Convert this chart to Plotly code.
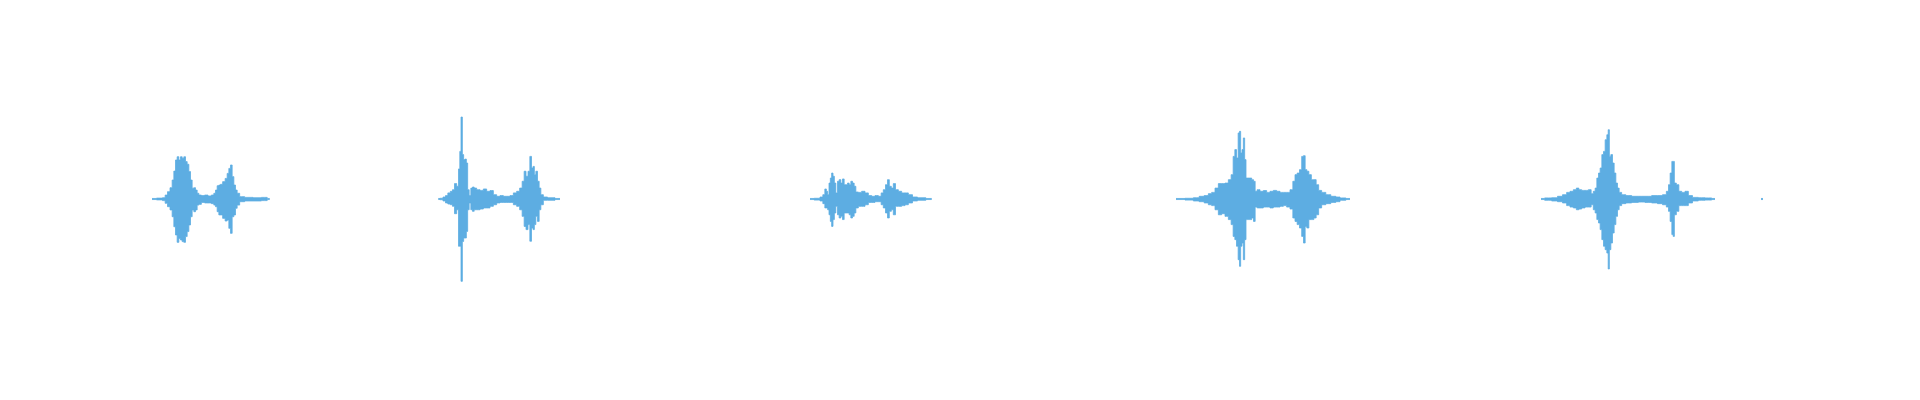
"""
Waveform of five short recorded clips (plus a tiny click at the end), drawn as
an amplitude envelope around a zero line.
"""
import plotly.graph_objects as go

# time in seconds, upper / lower peak amplitude (normalised, full scale = 1)
t_clip1 = [1.52, 1.61, 1.64, 1.663, 1.687, 1.713, 1.73, 1.747, 1.763, 1.78, 1.797, 1.813, 1.83, 1.847, 1.863, 1.88,
           1.897, 1.913, 1.93, 1.947, 1.963, 1.98, 1.997, 2.03, 2.063, 2.097, 2.13, 2.147, 2.163, 2.18, 2.197, 2.213,
           2.24, 2.263, 2.28, 2.297, 2.313, 2.33, 2.347, 2.363, 2.38, 2.413, 2.48, 2.58, 2.647, 2.697]
up_clip1 = [0.003, 0.005, 0.007, 0.022, 0.041, 0.063, 0.106, 0.156, 0.218, 0.236, 0.218, 0.236, 0.227, 0.236, 0.209,
            0.194, 0.153, 0.106, 0.06, 0.063, 0.05, 0.032, 0.022, 0.019, 0.022, 0.017, 0.022, 0.032, 0.05, 0.074, 0.078,
            0.082, 0.097, 0.115, 0.143, 0.171, 0.19, 0.125, 0.078, 0.05, 0.032, 0.013, 0.009, 0.007, 0.009, 0.003]
lo_clip1 = [0.003, 0.005, 0.009, 0.024, 0.043, 0.061, 0.099, 0.155, 0.201, 0.242, 0.22, 0.229, 0.238, 0.242, 0.21,
            0.182, 0.145, 0.099, 0.061, 0.071, 0.061, 0.034, 0.03, 0.019, 0.022, 0.022, 0.026, 0.034, 0.043, 0.071,
            0.089, 0.089, 0.108, 0.123, 0.117, 0.164, 0.192, 0.099, 0.089, 0.052, 0.034, 0.015, 0.011, 0.011, 0.009,
            0.003]

t_clip2 = [4.383, 4.417, 4.443, 4.467, 4.49, 4.517, 4.533, 4.557, 4.577, 4.593, 4.603, 4.617, 4.63, 4.643, 4.657, 4.67,
           4.683, 4.70, 4.717, 4.733, 4.75, 4.783, 4.817, 4.85, 4.883, 4.917, 4.95, 4.983, 5.017, 5.05, 5.083, 5.117,
           5.15, 5.183, 5.21, 5.233, 5.25, 5.27, 5.29, 5.307, 5.323, 5.337, 5.35, 5.367, 5.383, 5.40, 5.417, 5.45, 5.50,
           5.60]
up_clip2 = [0.003, 0.004, 0.011, 0.019, 0.034, 0.043, 0.052, 0.086, 0.071, 0.168, 0.266, 0.458, 0.248, 0.22, 0.223,
            0.201, 0.052, 0.019, 0.061, 0.067, 0.061, 0.052, 0.048, 0.056, 0.043, 0.047, 0.024, 0.015, 0.019, 0.015,
            0.015, 0.019, 0.034, 0.043, 0.061, 0.099, 0.155, 0.127, 0.155, 0.238, 0.173, 0.182, 0.136, 0.155, 0.099,
            0.061, 0.024, 0.011, 0.007, 0.003]
lo_clip2 = [0.003, 0.004, 0.011, 0.022, 0.028, 0.032, 0.041, 0.082, 0.06, 0.264, 0.264, 0.46, 0.237, 0.218, 0.218,
            0.181, 0.06, 0.022, 0.06, 0.069, 0.06, 0.06, 0.056, 0.05, 0.05, 0.041, 0.032, 0.022, 0.019, 0.019, 0.019,
            0.019, 0.032, 0.041, 0.06, 0.097, 0.153, 0.171, 0.143, 0.236, 0.162, 0.171, 0.143, 0.097, 0.125, 0.06,
            0.032, 0.007, 0.007, 0.003]

t_clip3 = [8.10, 8.183, 8.217, 8.24, 8.257, 8.27, 8.283, 8.297, 8.31, 8.323, 8.337, 8.35, 8.367, 8.383, 8.40, 8.417,
           8.433, 8.45, 8.467, 8.483, 8.50, 8.517, 8.533, 8.55, 8.567, 8.60, 8.633, 8.667, 8.70, 8.733, 8.767, 8.80,
           8.823, 8.843, 8.867, 8.883, 8.903, 8.923, 8.943, 8.967, 9.00, 9.033, 9.067, 9.10, 9.15, 9.20, 9.317]
up_clip3 = [0.003, 0.004, 0.011, 0.024, 0.056, 0.043, 0.024, 0.089, 0.117, 0.145, 0.127, 0.089, 0.034, 0.099, 0.108,
            0.089, 0.112, 0.08, 0.08, 0.089, 0.08, 0.099, 0.089, 0.071, 0.039, 0.037, 0.043, 0.034, 0.019, 0.015, 0.019,
            0.015, 0.034, 0.052, 0.08, 0.108, 0.071, 0.061, 0.086, 0.052, 0.043, 0.034, 0.034, 0.024, 0.011, 0.007,
            0.003]
lo_clip3 = [0.003, 0.006, 0.011, 0.026, 0.05, 0.05, 0.06, 0.088, 0.125, 0.153, 0.115, 0.078, 0.041, 0.088, 0.106,
            0.097, 0.115, 0.078, 0.078, 0.078, 0.088, 0.106, 0.097, 0.078, 0.05, 0.041, 0.041, 0.032, 0.019, 0.019,
            0.015, 0.015, 0.032, 0.05, 0.078, 0.106, 0.069, 0.06, 0.088, 0.041, 0.041, 0.037, 0.032, 0.022, 0.011,
            0.007, 0.003]

t_clip4 = [11.76, 11.80, 11.90, 11.967, 12.017, 12.067, 12.10, 12.133, 12.167, 12.20, 12.233, 12.267, 12.30, 12.323,
           12.34, 12.357, 12.373, 12.39, 12.40, 12.413, 12.427, 12.44, 12.453, 12.467, 12.483, 12.507, 12.527, 12.543,
           12.56, 12.583, 12.617, 12.65, 12.683, 12.717, 12.75, 12.783, 12.817, 12.85, 12.883, 12.917, 12.94, 12.96,
           12.983, 13.007, 13.027, 13.043, 13.06, 13.077, 13.10, 13.127, 13.15, 13.173, 13.20, 13.233, 13.283,
           13.333, 13.383, 13.417, 13.50]
up_clip4 = [0.003, 0.003, 0.004, 0.007, 0.015, 0.019, 0.03, 0.037, 0.061, 0.086, 0.086, 0.089, 0.108, 0.136, 0.238,
            0.276, 0.229, 0.369, 0.378, 0.257, 0.276, 0.341, 0.22, 0.117, 0.117, 0.117, 0.108, 0.099, 0.043, 0.052,
            0.043, 0.047, 0.037, 0.043, 0.048, 0.043, 0.037, 0.037, 0.037, 0.052, 0.099, 0.136, 0.145, 0.164, 0.238,
            0.242, 0.164, 0.155, 0.136, 0.108, 0.108, 0.08, 0.048, 0.037, 0.024, 0.015, 0.011, 0.006, 0.003]
lo_clip4 = [0.003, 0.003, 0.006, 0.011, 0.015, 0.022, 0.032, 0.037, 0.06, 0.088, 0.082, 0.097, 0.115, 0.143, 0.209,
            0.227, 0.264, 0.339, 0.376, 0.264, 0.246, 0.339, 0.227, 0.115, 0.115, 0.115, 0.106, 0.125, 0.045, 0.05,
            0.05, 0.045, 0.045, 0.05, 0.045, 0.045, 0.041, 0.037, 0.045, 0.056, 0.106, 0.125, 0.143, 0.162, 0.209,
            0.246, 0.153, 0.162, 0.115, 0.115, 0.106, 0.088, 0.05, 0.032, 0.026, 0.019, 0.015, 0.007, 0.003]

t_clip5 = [15.41, 15.483, 15.55, 15.60, 15.65, 15.683, 15.717, 15.75, 15.777, 15.80, 15.833, 15.867, 15.90, 15.923,
           15.943, 15.96, 15.977, 15.993, 16.01, 16.027, 16.043, 16.06, 16.077, 16.087, 16.10, 16.117, 16.133, 16.15,
           16.167, 16.183, 16.20, 16.233, 16.283, 16.35, 16.417, 16.483, 16.55, 16.60, 16.65, 16.677, 16.693, 16.71,
           16.727, 16.737, 16.75, 16.777, 16.80, 16.833, 16.867, 16.90, 16.95, 17.017, 17.083, 17.15]
up_clip5 = [0.003, 0.006, 0.007, 0.015, 0.024, 0.037, 0.043, 0.052, 0.061, 0.052, 0.048, 0.048, 0.052, 0.03, 0.043,
            0.061, 0.117, 0.145, 0.173, 0.248, 0.266, 0.331, 0.359, 0.387, 0.238, 0.248, 0.201, 0.145, 0.089, 0.061,
            0.037, 0.024, 0.019, 0.015, 0.015, 0.015, 0.019, 0.019, 0.024, 0.043, 0.08, 0.145, 0.21, 0.21, 0.089, 0.08,
            0.043, 0.037, 0.043, 0.019, 0.009, 0.007, 0.006, 0.003]
lo_clip5 = [0.003, 0.007, 0.011, 0.015, 0.022, 0.037, 0.045, 0.05, 0.06, 0.056, 0.05, 0.045, 0.045, 0.032, 0.06, 0.078,
            0.115, 0.134, 0.171, 0.227, 0.264, 0.283, 0.302, 0.391, 0.283, 0.246, 0.19, 0.143, 0.097, 0.06, 0.037,
            0.026, 0.022, 0.019, 0.017, 0.019, 0.022, 0.026, 0.032, 0.045, 0.069, 0.125, 0.199, 0.209, 0.088, 0.069,
            0.037, 0.037, 0.037, 0.022, 0.011, 0.007, 0.006, 0.003]

# tiny click near the end
t_clip6 = [17.61, 17.63]
up_clip6 = [0.003, 0.003]
lo_clip6 = [0.003, 0.003]

clips = [(t_clip1, up_clip1, lo_clip1), (t_clip2, up_clip2, lo_clip2), (t_clip3, up_clip3, lo_clip3),
         (t_clip4, up_clip4, lo_clip4), (t_clip5, up_clip5, lo_clip5), (t_clip6, up_clip6, lo_clip6)]

wave_color = '#5DADE2'

fig = go.Figure()
for t, up, lo in clips:
    # lower envelope first, then the upper one filled down to it
    fig.add_trace(go.Scatter(x=t, y=[-v for v in lo], mode='lines', line_shape='hvh',
                             line=dict(color=wave_color, width=0.8), hoverinfo='skip', showlegend=False))
    fig.add_trace(go.Scatter(x=t, y=up, mode='lines', line_shape='hvh', fill='tonexty', fillcolor=wave_color,
                             line=dict(color=wave_color, width=0.8), hoverinfo='skip', showlegend=False))

# page body adds an 8px offset, so the plot area is nudged back by that much
fig.update_layout(width=1920, height=400, margin=dict(l=0, r=0, t=12, b=30),
                  paper_bgcolor='white', plot_bgcolor='white', showlegend=False)
fig.update_xaxes(range=[0.08, 19.28], visible=False, showgrid=False, zeroline=False)
fig.update_yaxes(range=[-1, 1], visible=False, showgrid=False, zeroline=False)

fig.write_html("out.html")
